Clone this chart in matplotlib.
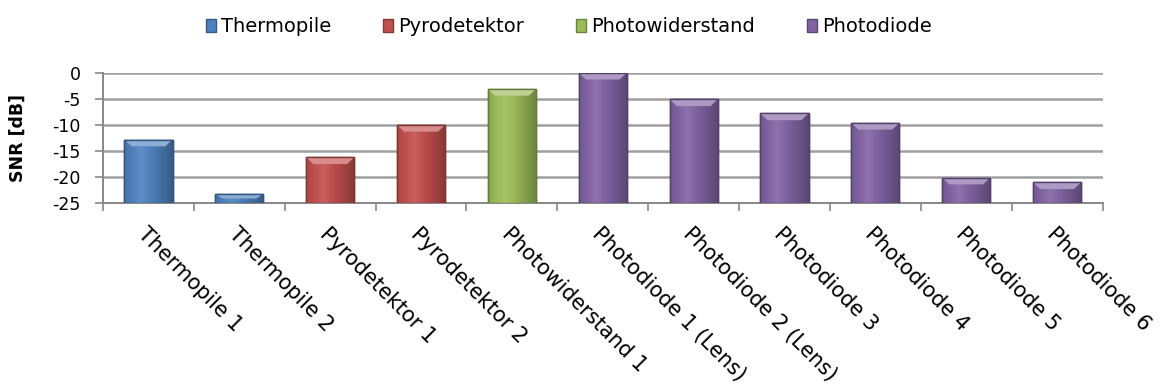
import matplotlib
matplotlib.use("Agg")
import matplotlib.pyplot as plt
import numpy as np
from matplotlib.patches import Patch
from matplotlib.colors import to_rgb

plt.rcParams['font.family'] = ['DejaVu Sans']

categories = ["Thermopile 1", "Thermopile 2", "Pyrodetektor 1", "Pyrodetektor 2",
              "Photowiderstand 1", "Photodiode 1 (Lens)", "Photodiode 2 (Lens)",
              "Photodiode 3", "Photodiode 4", "Photodiode 5", "Photodiode 6"]
snr_db = [-12.8, -23.2, -16.2, -10.0, -3.1, 0.0, -5.1, -7.8, -9.6, -20.1, -21.0]
groups = ["Thermopile", "Thermopile", "Pyrodetektor", "Pyrodetektor", "Photowiderstand",
          "Photodiode", "Photodiode", "Photodiode", "Photodiode", "Photodiode", "Photodiode"]
legend_names = ["Thermopile", "Pyrodetektor", "Photowiderstand", "Photodiode"]
group_colors = {"Thermopile": "#4F81BD", "Pyrodetektor": "#C0504D",
                "Photowiderstand": "#9BBB59", "Photodiode": "#8064A2"}
y_ticks = [0, -5, -10, -15, -20, -25]
baseline = -25

fig = plt.figure(figsize=(11.63, 3.9), dpi=100)
ax = fig.add_axes([0.0886, 0.479, 0.8594, 0.3346])

x = np.arange(len(categories))
heights = [v - baseline for v in snr_db]
colors = [group_colors[g] for g in groups]

def shade(c, f):
    r = np.array(to_rgb(c))
    if f >= 0:
        return tuple(r + (1 - r) * f)
    return tuple(r * (1 + f))

bars = ax.bar(x, heights, bottom=baseline, width=0.53, color=colors, zorder=3,
              edgecolor=[shade(c, -0.35) for c in colors], linewidth=1.0)

# gradient shading to mimic bevel look
for b, c in zip(bars, colors):
    x0, y0 = b.get_x(), b.get_y()
    w, h = b.get_width(), b.get_height()
    n = 64
    t = np.linspace(0, 1, n)
    prof = -0.3 * np.abs(t - 0.35) * 2 + 0.1
    row = np.array([shade(c, p) for p in prof])
    img = np.tile(row[None, :, :], (2, 1, 1))
    im = ax.imshow(img, extent=(x0, x0 + w, y0, y0 + h), aspect='auto', zorder=3.5,
                   interpolation='bilinear')
    im.set_clip_path(b)
    top_h = min(1.3, h * 0.5)
    ax.fill([x0, x0 + w, x0 + w * 0.85, x0 + w * 0.15],
            [y0 + h, y0 + h, y0 + h - top_h, y0 + h - top_h],
            color=shade(c, 0.35), zorder=3.6, lw=0)
    ax.add_patch(plt.Rectangle((x0, y0), w, h, fill=False,
                               edgecolor=shade(c, -0.35), lw=1.0, zorder=3.7))

ax.set_xlim(-0.5, len(categories) - 0.5)
ax.set_ylim(baseline, 0)
ax.set_yticks(y_ticks)
ax.set_yticklabels([str(v) for v in y_ticks], fontsize=12.5)
ax.set_ylabel("SNR [dB]", fontsize=12.5, fontweight='bold')
ax.yaxis.set_label_coords(-0.076, 0.5)

ax.set_xticks(np.arange(len(categories) + 1) - 0.5, minor=False)
ax.set_xticklabels([])
ax.set_xticks(x, minor=True)
ax.set_xticklabels(categories, minor=True, rotation=-45, ha='left', va='top',
                   rotation_mode='anchor', fontsize=15)
ax.tick_params(axis='x', which='minor', length=0, pad=15)
ax.tick_params(axis='x', which='major', length=6, width=1.2, color='#888888', direction='out')
ax.tick_params(axis='y', length=6, width=1.2, color='#888888', pad=10)

ax.grid(axis='y', color='#a0a0a0', linewidth=1.8, zorder=0)
ax.set_axisbelow(True)
for s in ['top', 'right']:
    ax.spines[s].set_visible(False)
for s in ['left', 'bottom']:
    ax.spines[s].set_color('#888888')
    ax.spines[s].set_linewidth(1.4)

handles = [Patch(facecolor=group_colors[n], edgecolor=shade(group_colors[n], -0.3), label=n)
           for n in legend_names]
fig.legend(handles=handles, loc='center', bbox_to_anchor=(0.489, 0.931), ncol=4,
           frameon=False, fontsize=14, handlelength=0.5, handleheight=0.65,
           handletextpad=0.25, columnspacing=2.7)

fig.savefig("out.png", dpi=100)
